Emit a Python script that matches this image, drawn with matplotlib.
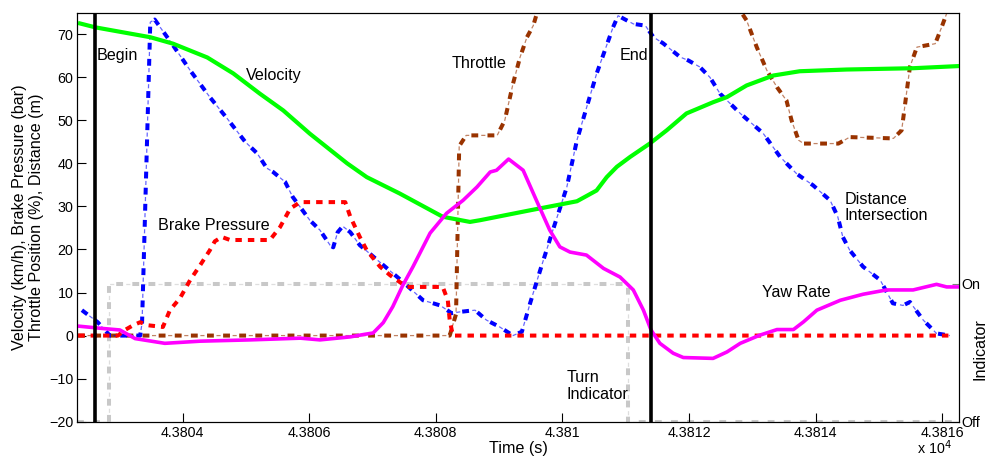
import matplotlib
matplotlib.use('Agg')
import matplotlib.pyplot as plt
from matplotlib.ticker import FuncFormatter

plt.rcParams['font.family'] = ['Liberation Sans', 'DejaVu Sans']

# time stamps in seconds
vel_t = [43802.38, 43802.62, 43803.49, 43803.85, 43804.39, 43804.80, 43805.22, 43805.59,
         43806.01, 43806.60, 43806.91, 43807.43, 43808.11, 43808.54, 43808.70, 43809.49,
         43810.23, 43810.54, 43810.70, 43810.86, 43811.07, 43811.38, 43811.65, 43811.96,
         43812.38, 43812.60, 43812.91, 43813.33, 43813.75, 43814.49, 43815.54, 43816.26]
velocity = [72.5, 71.6, 69.3, 67.8, 64.6, 60.9, 56.2, 52.3,
            46.9, 40.0, 36.8, 33.0, 27.6, 26.4, 26.8, 29.1,
            31.2, 33.7, 36.8, 39.2, 41.5, 44.6, 47.7, 51.6,
            54.2, 55.4, 58.1, 60.4, 61.4, 61.8, 62.1, 62.6]

dist_t = [43802.41, 43802.66, 43802.85, 43803.33, 43803.36, 43803.49, 43803.56, 43803.85,
          43804.12, 43804.43, 43804.70, 43804.99, 43805.18, 43805.33, 43805.43, 43805.62,
          43805.74, 43806.01, 43806.17, 43806.33, 43806.38, 43806.45, 43806.53, 43806.65,
          43806.80, 43807.12, 43807.48, 43807.80, 43808.07, 43808.25, 43808.38, 43808.62,
          43808.80, 43809.01, 43809.22, 43809.36, 43809.49, 43809.65, 43809.85, 43810.07,
          43810.23, 43810.54, 43810.80, 43810.88, 43811.12, 43811.31, 43811.44, 43811.59,
          43811.86, 43811.99, 43812.17, 43812.33, 43812.49, 43812.81, 43813.17, 43813.44,
          43813.70, 43813.96, 43814.23, 43814.35, 43814.43, 43814.54, 43814.75, 43815.02,
          43815.22, 43815.38, 43815.49, 43815.70, 43815.91, 43816.12]
distance = [5.9, 3.1, 0.0, 0.0, 2.9, 72.8, 73.4, 67.4,
            61.6, 55.4, 50.5, 45.0, 42.3, 38.9, 38.0, 35.7,
            32.2, 26.8, 24.5, 21.0, 20.5, 24.0, 25.4, 24.0,
            21.0, 17.0, 12.5, 8.2, 7.0, 5.2, 5.5, 5.9,
            3.6, 2.0, 0.0, 0.9, 7.5, 15.2, 24.5, 34.5,
            45.4, 60.8, 71.6, 74.3, 72.4, 72.0, 69.3, 67.9,
            64.7, 63.9, 62.4, 60.0, 56.2, 51.6, 47.0, 41.5,
            37.6, 34.9, 31.4, 27.6, 22.9, 19.8, 16.0, 12.9,
            7.5, 7.0, 7.8, 3.6, 0.5, 0.0]

brake_t = [43802.35, 43802.98, 43803.09, 43803.22, 43803.33, 43803.45, 43803.69, 43803.80,
           43803.96, 43804.12, 43804.28, 43804.43, 43804.51, 43804.62, 43804.75, 43805.38,
           43805.54, 43805.70, 43805.86, 43806.57, 43806.65, 43806.80, 43806.91, 43807.12,
           43807.28, 43807.54, 43808.11, 43808.19, 43808.22, 43808.27, 43816.12]
brake = [0.0, 0.0, 1.3, 2.4, 3.1, 2.4, 2.0, 5.9,
         8.7, 12.9, 16.4, 19.8, 21.9, 22.9, 22.2, 22.2,
         25.2, 29.5, 31.0, 31.0, 27.6, 22.9, 19.8, 16.0,
         14.0, 11.3, 11.3, 8.2, 3.6, 0.0, 0.0]

throttle_t = [43802.35, 43808.22, 43808.32, 43808.37, 43808.48, 43808.97, 43809.09, 43809.22,
              43809.33, 43809.44, 43809.54, 43809.60, 43809.96, 43812.49, 43812.83, 43812.91,
              43813.07, 43813.23, 43813.39, 43813.54, 43813.62, 43813.73, 43813.81, 43814.36,
              43814.54, 43815.23, 43815.36, 43815.49, 43815.60, 43815.89, 43815.99, 43816.07,
              43816.12, 43816.26]
throttle = [0.0, 0.0, 5.0, 44.0, 46.5, 46.5, 50.0, 58.5,
            64.6, 69.3, 72.0, 75.0, 100.0, 100.0, 75.0, 73.2,
            67.0, 61.6, 57.7, 54.6, 50.0, 45.4, 44.6, 44.6,
            46.1, 45.8, 47.7, 62.4, 67.0, 67.8, 71.6, 74.8,
            80.0, 85.0]

yaw_t = [43802.35, 43802.70, 43803.01, 43803.25, 43803.72, 43804.28, 43805.07, 43805.86,
         43806.17, 43806.65, 43806.88, 43807.01, 43807.17, 43807.32, 43807.48, 43807.64,
         43807.91, 43808.17, 43808.43, 43808.65, 43808.86, 43808.96, 43809.15, 43809.38,
         43809.59, 43809.80, 43809.96, 43810.12, 43810.38, 43810.65, 43810.91, 43811.12,
         43811.28, 43811.40, 43811.54, 43811.75, 43811.91, 43812.38, 43812.60, 43812.81,
         43813.12, 43813.39, 43813.65, 43813.81, 43814.02, 43814.39, 43814.75, 43815.12,
         43815.54, 43815.91, 43816.07, 43816.26]
yaw = [2.2, 1.7, 1.3, -0.7, -1.8, -1.3, -1.0, -0.6,
       -1.0, -0.3, 0.3, 0.6, 3.0, 6.7, 11.7, 16.0,
       23.8, 28.4, 31.4, 34.5, 38.0, 38.4, 41.0, 38.4,
       31.4, 24.5, 20.6, 19.4, 18.7, 15.6, 13.6, 10.6,
       5.9, 1.3, -1.8, -4.1, -5.1, -5.3, -3.8, -1.8,
       0.1, 1.4, 1.4, 3.2, 5.9, 8.2, 9.6, 10.6,
       10.6, 11.9, 11.3, 11.3]

# turn indicator state (0 = Off, 1 = On)
ind_t = [43802.34, 43802.84, 43811.03, 43816.26]
ind_state = [0, 1, 0, 0]

t_begin = 43802.62
t_end = 43811.40


def dashdot(ax, t, y, color, lw=2.9, **kw):
    # thick dashes with a thin dot in the gap
    ax.plot(t, y, color=color, lw=0.9, alpha=0.6, linestyle=(5.4, (3.3, 9.6)), **kw)
    ax.plot(t, y, color=color, lw=lw, dashes=(1.7, 2.3), **kw)


fig = plt.figure(figsize=(9.87, 4.58), dpi=100)
ax = fig.add_axes([0.0785, 0.0793, 0.8928, 0.893])
ax2 = ax.twinx()
ax2.set_zorder(ax.get_zorder() - 1)
ax.patch.set_visible(False)

dashdot(ax2, ind_t, ind_state, '#c8c8c8', drawstyle='steps-post')
dashdot(ax, throttle_t, throttle, '#993300')
dashdot(ax, dist_t, distance, '#0000ff')
ax.plot(brake_t, brake, color='#ff0000', lw=2.9, dashes=(1.6, 1.5))
ax.plot(vel_t, velocity, color='#00ff00', lw=3.0)
ax.plot(yaw_t, yaw, color='#ff00ff', lw=2.6)
ax.axvline(t_begin, color='black', lw=2.6)
ax.axvline(t_end, color='black', lw=2.6)

ax.set_xlim(43802.34, 43816.26)
ax.set_ylim(-20, 75)
ax.set_yticks(range(-20, 71, 10))
ax.set_xticks(range(43804, 43817, 2))
ax.xaxis.set_major_formatter(FuncFormatter(lambda v, p: '%.5g' % (v / 1e4)))
ax.tick_params(direction='in', length=6.5, labelsize=10.3, pad=3, right=False, top=False)

ax2.set_ylim(0, 95 / 32)
ax2.set_yticks([0, 1])
ax2.set_yticklabels(['Off', 'On'])
ax2.tick_params(direction='in', length=5, color='0.5', labelsize=10.3, pad=2)

fs = 11.6
ax.text(43802.65, 65.1, 'Begin', fontsize=fs, va='center')
ax.text(43805.00, 60.4, 'Velocity', fontsize=fs, va='center')
ax.text(43808.25, 63.2, 'Throttle', fontsize=fs, va='center')
ax.text(43810.91, 65.1, 'End', fontsize=fs, va='center')
ax.text(43803.61, 25.6, 'Brake Pressure', fontsize=fs, va='center')
ax.text(43814.46, 29.7, 'Distance\nIntersection', fontsize=fs, va='center', linespacing=1.1)
ax.text(43813.15, 10.0, 'Yaw Rate', fontsize=fs, va='center')
ax.text(43810.07, -11.7, 'Turn\nIndicator', fontsize=fs, va='center', linespacing=1.1)

ax.set_xlabel('Time (s)', fontsize=fs, labelpad=1)
ax.set_ylabel('Velocity (km/h), Brake Pressure (bar)\nThrottle Position (%), Distance (m)',
              fontsize=fs, labelpad=4, linespacing=1.1)
fig.text(980 / 987, 1 - 349 / 458, 'Indicator', fontsize=fs, rotation=90, ha='center', va='center')
fig.text(917 / 987, 1 - 457 / 458, r'x 10$^4$', fontsize=10.3, ha='left', va='bottom')

fig.savefig('out.png', dpi=100)
